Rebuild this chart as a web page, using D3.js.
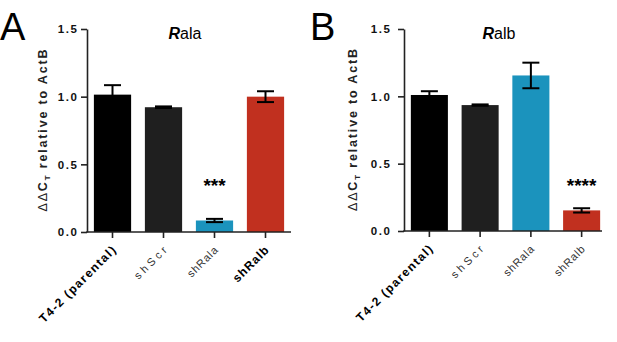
<!DOCTYPE html>
<html><head><meta charset="utf-8">
<script src="https://cdn.jsdelivr.net/npm/d3@7"></script>
<style>body{margin:0;background:#fff} text{font-family:"Liberation Sans",Arial,sans-serif}</style>
</head><body>
<svg id="c" width="617" height="342"></svg>
<script>
const categories = ["T4-2 (parental)", "shScr", "shRala", "shRalb"];
const ralaValues = [1.015, 0.922, 0.085, 1.0];
const ralaErrors = [0.07, 0.006, 0.012, 0.04];
const ralbValues = [1.01, 0.935, 1.155, 0.153];
const ralbErrors = [0.028, 0.005, 0.095, 0.016];
const barColors = ["#000000", "#1f1f1f", "#1b93bd", "#c1301f"];
const yTicks = [0, 0.5, 1.0, 1.5];
const tickLabels = ["0.0", "0.5", "1.0", "1.5"];

const svg = d3.select("#c");

function spacedDx(str, sp) { return str.split("").map((c, i) => i === 0 ? 0 : sp).join(" "); }

const panels = [
  {letter: "A", letterX: 0, titleRest: "ala", values: ralaValues, errors: ralaErrors,
   stars: "***", starIdx: 2, bold: [true, false, false, true],
   axisX: 87, axisEnd: 291, bandEnd: 291, yZero: 232, yTop: 29, ylabX: 43, tickPad: 4},
  {letter: "B", letterX: 310, titleRest: "alb", values: ralbValues, errors: ralbErrors,
   stars: "****", starIdx: 3, bold: [true, false, false, false],
   axisX: 404, axisEnd: 602, bandEnd: 607, yZero: 231, yTop: 29, ylabX: 353, tickPad: 8}
];

panels.forEach(p => {
  const g = svg.append("g");
  const x = d3.scaleBand().domain(categories).range([p.axisX, p.bandEnd])
    .paddingInner(0.27).paddingOuter(0.135);
  const y = d3.scaleLinear().domain([0, 1.5]).range([p.yZero, p.yTop]);

  g.append("text").attr("x", p.letterX).attr("y", 40).attr("font-size", 38).text(p.letter);

  const t = g.append("text").attr("x", (p.axisX + p.axisEnd) / 2 - 4).attr("y", 39)
    .attr("text-anchor", "middle").attr("font-size", 16);
  t.append("tspan").attr("font-weight", "bold").attr("font-style", "italic").text("R");
  t.append("tspan").text(p.titleRest);

  g.selectAll("rect.bar").data(p.values).enter().append("rect")
    .attr("x", (d, i) => x(categories[i]))
    .attr("width", x.bandwidth())
    .attr("y", d => y(d))
    .attr("height", d => y(0) - y(d))
    .attr("fill", (d, i) => barColors[i]);

  const eb = g.selectAll("g.eb").data(p.values).enter().append("g")
    .attr("stroke", "#000").attr("stroke-width", 2);
  eb.append("line")
    .attr("x1", (d, i) => x(categories[i]) + x.bandwidth() / 2)
    .attr("x2", (d, i) => x(categories[i]) + x.bandwidth() / 2)
    .attr("y1", (d, i) => y(d + p.errors[i])).attr("y2", (d, i) => y(d - p.errors[i]));
  [1, -1].forEach(s => {
    eb.append("line")
      .attr("x1", (d, i) => x(categories[i]) + x.bandwidth() / 2 - 8.5)
      .attr("x2", (d, i) => x(categories[i]) + x.bandwidth() / 2 + 8.5)
      .attr("y1", (d, i) => y(d + s * p.errors[i])).attr("y2", (d, i) => y(d + s * p.errors[i]));
  });

  g.append("text")
    .attr("x", x(categories[p.starIdx]) + x.bandwidth() / 2)
    .attr("y", 192).attr("text-anchor", "middle")
    .attr("font-size", 19).attr("font-weight", "bold").text(p.stars);

  const yAxis = d3.axisLeft(y).tickValues(yTicks).tickSize(6).tickSizeOuter(0)
    .tickPadding(p.tickPad).tickFormat((d, i) => tickLabels[i]);
  const ya = g.append("g").attr("transform", `translate(${p.axisX},0)`).call(yAxis);
  ya.select(".domain").attr("stroke", "#222").attr("stroke-width", 1.6);
  ya.selectAll(".tick line").attr("stroke", "#222").attr("stroke-width", 1.6);
  ya.selectAll(".tick text").attr("font-size", 11.5).attr("font-weight", "bold")
    .attr("font-family", "Liberation Sans, Arial, sans-serif")
    .attr("fill", "#111")
    .each(function (d, i) {
      d3.select(this).attr("dx", spacedDx(tickLabels[i], 1.6)).attr("x", -6 - p.tickPad);
    });

  const xAxis = d3.axisBottom(x).tickSize(6).tickSizeOuter(0).tickFormat("");
  const xa = g.append("g").attr("transform", `translate(0,${p.yZero})`).call(xAxis);
  xa.select(".domain").remove();
  xa.selectAll(".tick line").attr("stroke", "#222").attr("stroke-width", 1.6);
  g.append("line").attr("x1", p.axisX - 0.8).attr("x2", p.axisEnd)
    .attr("y1", p.yZero).attr("y2", p.yZero).attr("stroke", "#222").attr("stroke-width", 1.6);

  // diagonal category labels
  categories.forEach((c, i) => {
    const bold = p.bold[i];
    const size = bold ? 12 : 11;
    const sp = i === 0 ? 1.4 : (c === "shScr" ? 3.2 : (bold ? 1.0 : 0.8));
    const ex = x(c) + x.bandwidth() / 2 + 4;
    const ey = p.yZero + 19;
    const lg = g.append("g").attr("transform", `translate(${ex},${ey}) rotate(-45)`);
    lg.append("text")
      .attr("x", 0).attr("y", 0)
      .attr("text-anchor", "end")
      .attr("dx", spacedDx(c, sp))
      .attr("font-size", size)
      .attr("font-weight", bold ? "bold" : "normal")
      .attr("fill", bold ? "#000" : "#333")
      .text(c);
  });

  const yl = g.append("g")
    .attr("transform", `translate(${p.ylabX},${(p.yZero + p.yTop) / 2}) rotate(-90)`)
    .append("text").attr("x", -81).attr("y", 4)
    .attr("textLength", 162).attr("lengthAdjust", "spacing")
    .attr("font-size", 12.5).attr("font-weight", "bold").attr("fill", "#222");
  yl.append("tspan").attr("font-weight", "normal").text("\u0394\u0394");
  yl.append("tspan").text("C");
  yl.append("tspan").attr("font-size", 8).attr("dy", 3).text("T");
  yl.append("tspan").attr("dy", -3).text(" relative to ActB");
});
</script>
</body></html>
